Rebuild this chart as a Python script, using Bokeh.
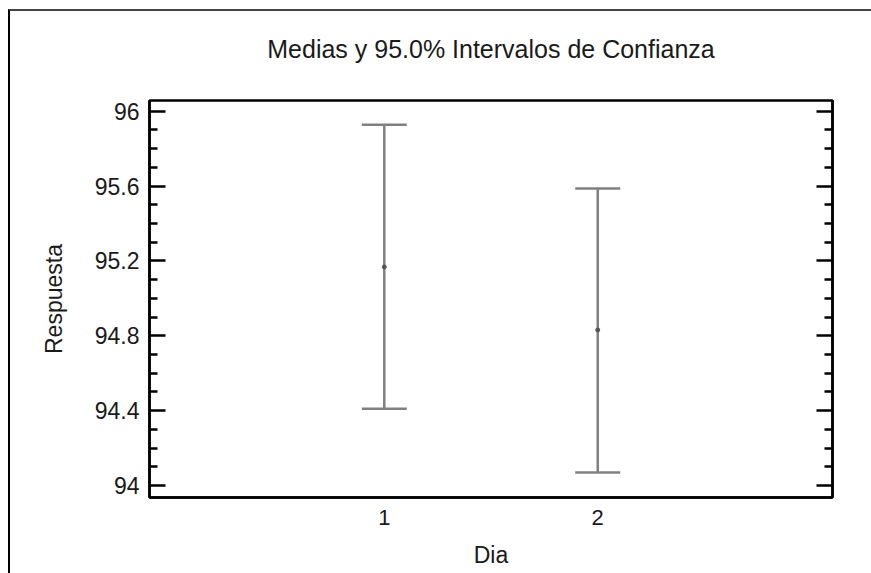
from bokeh.plotting import figure
from bokeh.layouts import column
from bokeh.models import (ColumnDataSource, Range1d, FixedTicker, LinearAxis,
                          Whisker, TeeHead, CustomJSTickFormatter, Title)
from bokeh.embed import file_html
from bokeh.resources import INLINE

# ---- data ----
dias = [1, 2]
dia_labels = ["1", "2"]
medias = [95.168, 94.831]
lower = [94.41, 94.07]
upper = [95.927, 95.587]
y_ticks = [94.0, 94.4, 94.8, 95.2, 95.6, 96.0]
y_minor = [94.1, 94.2, 94.3, 94.5, 94.6, 94.7, 94.9, 95.0, 95.1,
           95.3, 95.4, 95.5, 95.7, 95.8, 95.9]

FONT = "Liberation Sans"
TXT = "#1a1a1a"

src = ColumnDataSource(dict(x=dias, mean=medias, lower=lower, upper=upper))

p = figure(width=861, height=562, output_backend="svg", toolbar_location=None,
           x_range=Range1d(-0.1, 3.1), y_range=Range1d(93.936, 96.057),
           min_border_left=139, min_border_top=89, min_border_right=39,
           min_border_bottom=76, x_axis_location="below", y_axis_location="left")

p.background_fill_color = "white"
p.border_fill_color = "white"
p.grid.visible = False
p.outline_line_color = "black"
p.outline_line_width = 2.5

t = Title(text="Medias y 95.0% Intervalos de Confianza", align="center",
          text_font=FONT, text_font_size="25px", text_font_style="normal",
          text_color=TXT, standoff=0,
          padding=dict(left=0, right=0, top=0, bottom=38))
p.add_layout(t, "above")

fmt = CustomJSTickFormatter(code="return tick.toFixed(1).replace(/\\.0$/, '');")

# left axis
ya = p.yaxis[0]
ya.ticker = FixedTicker(ticks=y_ticks, minor_ticks=y_minor)
ya.formatter = fmt
ya.axis_label = "Respuesta"
ya.axis_line_width = 2.5
ya.axis_line_color = "black"
ya.major_tick_in = 16
ya.major_tick_out = 0
ya.minor_tick_in = 8
ya.minor_tick_out = 0
ya.major_tick_line_width = 2.5
ya.minor_tick_line_width = 2.5
ya.major_label_text_font = FONT
ya.major_label_text_font_size = "23px"
ya.major_label_text_color = TXT
ya.major_label_standoff = 10
ya.axis_label_text_font = FONT
ya.axis_label_text_font_size = "23px"
ya.axis_label_text_font_style = "normal"
ya.axis_label_text_color = TXT
ya.axis_label_standoff = 25

# right axis (ticks only)
ra = LinearAxis(ticker=FixedTicker(ticks=y_ticks, minor_ticks=y_minor),
                formatter=CustomJSTickFormatter(code="return '';"))
ra.axis_line_width = 2.5
ra.major_tick_in = 16
ra.major_tick_out = 0
ra.minor_tick_in = 8
ra.minor_tick_out = 0
ra.major_tick_line_width = 2.5
ra.minor_tick_line_width = 2.5
ra.major_label_standoff = 0
p.add_layout(ra, "right")

# bottom axis
xa = p.xaxis[0]
xa.ticker = FixedTicker(ticks=dias)
xa.major_label_overrides = {d: l for d, l in zip(dias, dia_labels)}
xa.axis_label = "Dia"
xa.axis_line_width = 2.5
xa.major_tick_in = 0
xa.major_tick_out = 0
xa.minor_tick_in = 0
xa.minor_tick_out = 0
xa.major_label_text_font = FONT
xa.major_label_text_font_size = "22px"
xa.major_label_text_color = TXT
xa.major_label_standoff = 12
xa.axis_label_text_font = FONT
xa.axis_label_text_font_size = "23px"
xa.axis_label_text_font_style = "normal"
xa.axis_label_text_color = TXT
xa.axis_label_standoff = 14

# error bars
GRAY = "#808080"
w = Whisker(base="x", lower="lower", upper="upper", source=src, dimension="height",
            line_color=GRAY, line_width=2.5,
            upper_head=TeeHead(size=45, line_color=GRAY, line_width=2.5),
            lower_head=TeeHead(size=45, line_color=GRAY, line_width=2.5))
p.add_layout(w)
p.scatter("x", "mean", source=src, size=4, color="#555555")

layout = column(p, styles={"margin-left": "8px", "margin-top": "9px",
                           "border-left": "2px solid #000000",
                           "border-top": "2px solid #444444",
                           "overflow": "hidden"})

html = file_html(layout, INLINE)
html = html.replace("</head>",
                    "<style>html,body{margin:0;padding:0;overflow:hidden;}</style></head>", 1)
open("out.html", "w").write(html)
